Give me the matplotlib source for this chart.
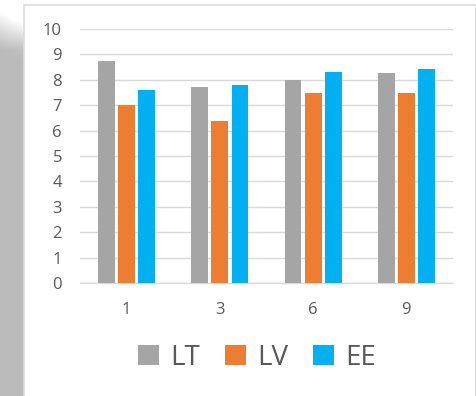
import matplotlib.pyplot as plt
import numpy as np
from matplotlib.patches import Rectangle

plt.rcParams['font.family'] = ['Open Sans', 'DejaVu Sans']

categories = ['1', '3', '6', '9']
lt = [8.73, 7.72, 8.00, 8.26]
lv = [7.00, 6.37, 7.49, 7.49]
ee = [7.61, 7.81, 8.31, 8.41]

series = [('LT', lt, '#A5A5A5'), ('LV', lv, '#ED7D31'), ('EE', ee, '#00B0F0')]
text_color = '#595959'

W, H = 477, 396
fig = plt.figure(figsize=(W / 100, H / 100), dpi=100)

# shadow strip on the left with a soft fade at the top
bg = fig.add_axes([0, 0, 1, 1], zorder=-10)
bg.set_xlim(0, W)
bg.set_ylim(H, 0)
bg.axis('off')
grad = np.ones((H, 24, 3))
for row in range(H):
    t = np.clip((row - 10) / 40, 0, 1)
    grad[row, :, :] = 1 - t * (1 - 0.73)
for col in range(24):
    grad[:60, col, :] = np.minimum(1, grad[:60, col, :] + (col / 24) * 0.12 * (1 - np.clip((np.arange(60)[:, None] - 10) / 50, 0, 1)))
bg.imshow(grad, extent=(0, 24, H, 0), aspect='auto', interpolation='bilinear')
bg.add_patch(Rectangle((24, 5), 452, H, facecolor='white', edgecolor='#dcdcdc', linewidth=1.2))

ax = fig.add_axes([80 / W, 1 - 283 / H, (453 - 80) / W, (283 - 29) / H])
ax.patch.set_alpha(0)

x = np.arange(len(categories))
width = 0.18
offsets = [-0.215, 0, 0.215]
for (name, vals, color), off in zip(series, offsets):
    ax.bar(x + off, vals, width=width, color=color, label=name, zorder=3)

ax.set_ylim(0, 10)
ax.set_xlim(-0.5, len(categories) - 0.5)
ax.set_yticks(range(0, 11))
ax.set_xticks(x)
ax.set_xticklabels(categories)
ax.yaxis.grid(True, color='#d9d9d9', linewidth=1)
ax.set_axisbelow(True)
for s in ['top', 'right', 'left']:
    ax.spines[s].set_visible(False)
ax.spines['bottom'].set_color('#d9d9d9')
ax.spines['bottom'].set_linewidth(1)
ax.tick_params(axis='both', length=0, colors=text_color, labelsize=12)
ax.tick_params(axis='y', pad=13)
ax.tick_params(axis='x', pad=14)

fig.legend(loc='center', bbox_to_anchor=(257 / W, 1 - 358 / H), ncol=3,
           frameon=False, fontsize=20, labelcolor=text_color,
           handlelength=0.75, handleheight=0.75, handletextpad=0.4,
           columnspacing=0.9)

fig.savefig('out.png', dpi=100)
